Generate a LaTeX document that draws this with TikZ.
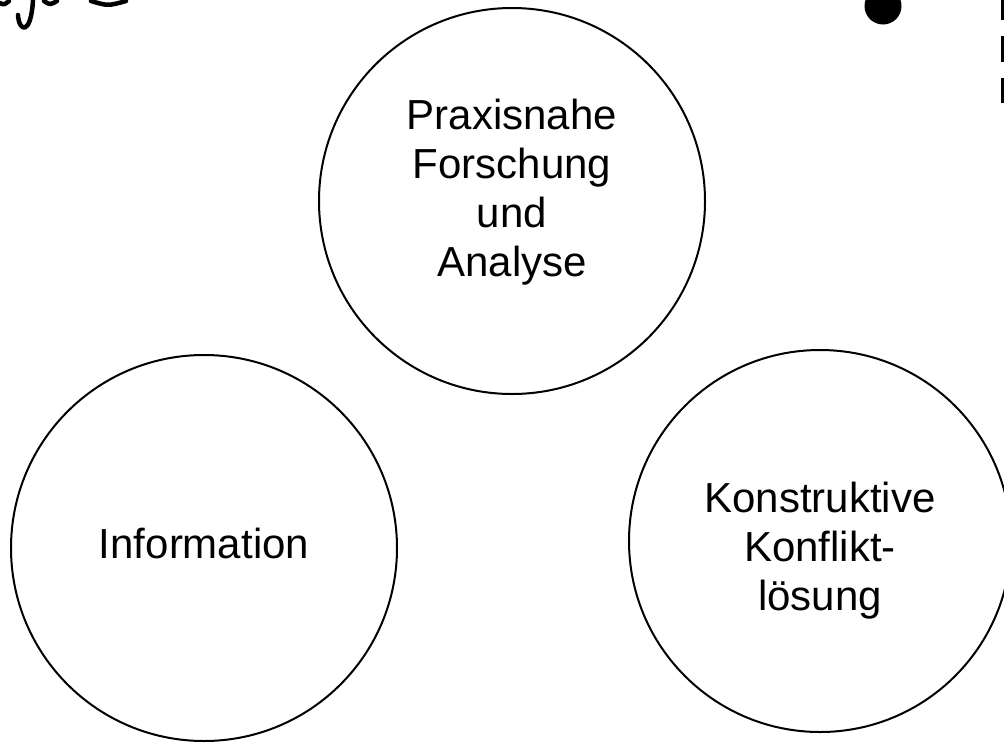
\documentclass[tikz,border=0pt]{standalone}
\usepackage{fontspec}
\setmainfont{Liberation Sans}
\usepackage{tikz}
\usetikzlibrary{calc}

\begin{document}
\begin{tikzpicture}[x=1pt,y=-1pt,
  ring/.style={circle,draw,line width=2pt,inner sep=0pt},
  lbl/.style={align=center,inner sep=0pt,font=\fontsize{42}{49}\selectfont},
  pen/.style={line width=4.5pt,line cap=round,line join=round}]
\useasboundingbox (0,0) rectangle (1004,742);
\clip (0,0) rectangle (1004,742);

% the three circles
\node[ring,minimum size=386pt] (praxis) at (512,201) {};
\node[ring,minimum size=386pt] (info) at (204,548) {};
\node[ring,minimum size=382pt] (konflikt) at (820,541) {};

\node[lbl] (praxistext) at ([yshift=8.5pt]praxis.center) {Praxisnahe\\Forschung\\und\\Analyse};
\node[lbl] (infotext) at ([yshift=5pt]info.center) {Information};
\node[lbl] (konflikttext) at ([yshift=-10pt]konflikt.center) {Konstruktive\\Konflikt-\\lösung};

% scraps at the edges
\draw[pen] (18,15) .. controls (19,32) and (31,36) .. (33,0);
\draw[pen] (0,3) .. controls (4,5) .. (9,1);
\draw[pen] (44,1) .. controls (50,5) .. (57,1);
\draw[pen] (91,1) .. controls (108,6) .. (126,1);
\fill (883,6) circle (18.5pt);
\fill (1001,0) rectangle (1004,20);
\fill (1001,36) rectangle (1004,62);
\fill (1001,78) rectangle (1004,103);

\end{tikzpicture}
\end{document}
